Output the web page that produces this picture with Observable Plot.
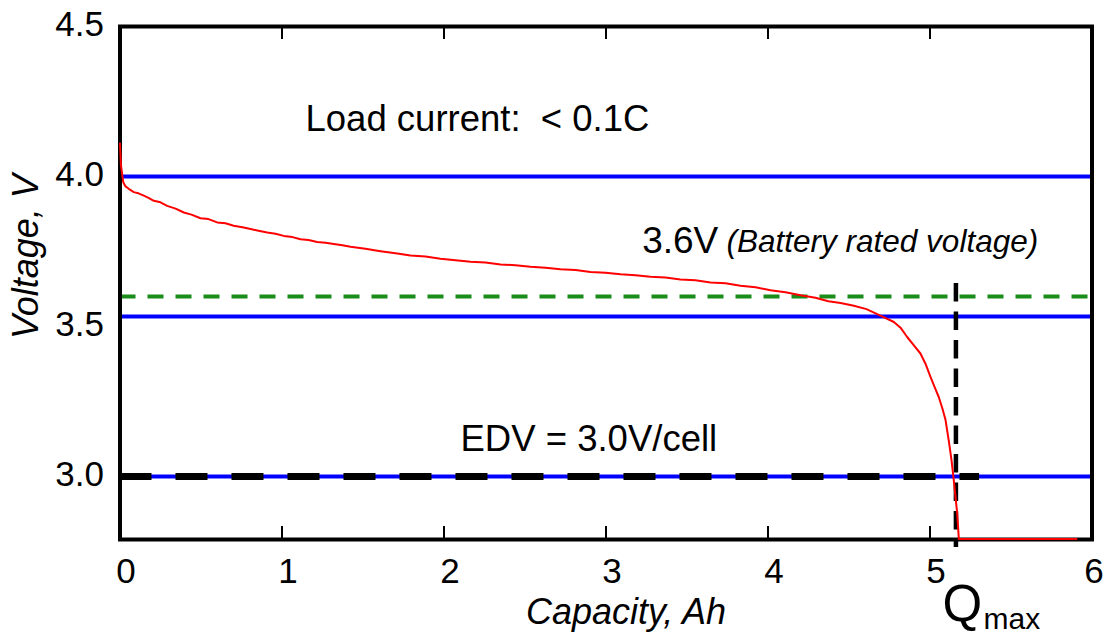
<!DOCTYPE html>
<html>
<head>
<meta charset="utf-8">
<script src="https://cdn.jsdelivr.net/npm/d3@7"></script>
<script src="https://cdn.jsdelivr.net/npm/@observablehq/plot@0.6"></script>
<style>
  html, body { margin: 0; padding: 0; background: #fff; }
  #chart svg { display: block; }
</style>
</head>
<body>
<div id="chart"></div>
<script>
// Discharge curve of a Li-ion cell at a low load current (< 0.1C)
const capacityAh = [
  0.000, 0.006, 0.020, 0.034, 0.054, 0.085, 0.114, 0.147, 0.176, 0.209,
  0.250, 0.291, 0.343, 0.394, 0.441, 0.497, 0.546, 0.600, 0.651, 0.702,
  0.756, 0.806, 0.855, 0.909, 0.960, 1.011, 1.065, 1.114, 1.164, 1.217,
  1.269, 1.320, 1.373, 1.423, 1.515, 1.608, 1.701, 1.793, 1.886, 1.978,
  2.071, 2.164, 2.256, 2.349, 2.441, 2.534, 2.627, 2.719, 2.812, 2.904,
  2.997, 3.090, 3.182, 3.275, 3.367, 3.460, 3.552, 3.645, 3.738, 3.830,
  3.923, 4.015, 4.108, 4.201, 4.293, 4.373, 4.448, 4.530, 4.608, 4.694,
  4.777, 4.818, 4.859, 4.898, 4.941, 4.972, 5.003, 5.028, 5.054, 5.077,
  5.096, 5.116, 5.133, 5.147, 5.168, 5.178, 5.904
];
const voltageV = [
  4.110, 4.037, 3.981, 3.967, 3.959, 3.948, 3.944, 3.936, 3.929, 3.919,
  3.914, 3.902, 3.893, 3.880, 3.873, 3.861, 3.858, 3.847, 3.844, 3.836,
  3.831, 3.825, 3.819, 3.813, 3.809, 3.802, 3.798, 3.791, 3.788, 3.782,
  3.779, 3.775, 3.771, 3.766, 3.759, 3.751, 3.744, 3.737, 3.733, 3.726,
  3.721, 3.716, 3.713, 3.707, 3.704, 3.699, 3.696, 3.691, 3.688, 3.682,
  3.679, 3.674, 3.671, 3.666, 3.663, 3.657, 3.654, 3.647, 3.644, 3.636,
  3.631, 3.621, 3.614, 3.604, 3.596, 3.584, 3.578, 3.569, 3.558, 3.536,
  3.515, 3.496, 3.465, 3.439, 3.410, 3.376, 3.332, 3.299, 3.265, 3.226,
  3.188, 3.119, 3.054, 2.986, 2.877, 2.792, 2.792
];

// Reference levels
const upperLevels = [4.0, 3.533];   // blue guide lines
const edv = 3.0;                     // end-of-discharge voltage
const ratedVoltage = 3.6;            // nominal cell voltage
const qmax = 5.16;                   // full capacity, Ah

// Axes
const xTicks = [0, 1, 2, 3, 4, 5];
const xLastTick = [6];
const xInnerTicks = [1, 2, 3, 4, 5];
const yTicks = [3.0, 3.5, 4.0, 4.5];
const yTickLabels = ["3.0", "3.5", "4.0", "4.5"];

const curve = capacityAh.map((c, i) => ({capacity: c, voltage: voltageV[i]}));
const font = "'Liberation Sans', Arial, Helvetica, sans-serif";
const tickLabel = {x: d => d, text: d => String(d), frameAnchor: "bottom", lineAnchor: "bottom",
  dy: 43, fontSize: 35, fill: "#000"};

const chart = Plot.plot({
  width: 1105,
  height: 634,
  marginTop: 26,
  marginBottom: 95,
  marginLeft: 119.5,
  marginRight: 13.5,
  x: {domain: [0, 6], axis: null},
  y: {domain: [2.79, 4.5], axis: null},
  style: {fontFamily: font, background: "#fff", color: "#000"},
  marks: [
    // horizontal guide lines
    Plot.ruleY([...upperLevels, edv], {stroke: "#0000ff", strokeWidth: 4}),
    Plot.ruleY([ratedVoltage], {stroke: "#1a8c1a", strokeWidth: 4, strokeDasharray: "16,12"}),
    Plot.ruleY([edv], {x1: 0, x2: 5.306, stroke: "#000", strokeWidth: 7, strokeDasharray: "32,24"}),
    Plot.ruleX([qmax], {y1: 3.643, y2: 2.763, stroke: "#000", strokeWidth: 4.5, strokeDasharray: "18.5,10"}),

    // frame and inward ticks
    Plot.frame({stroke: "#000", strokeWidth: 4}),
    Plot.ruleX(xInnerTicks, {insetTop: 500, stroke: "#000", strokeWidth: 2}),
    Plot.ruleX(xInnerTicks, {insetBottom: 500, stroke: "#000", strokeWidth: 2}),

    // tick labels
    Plot.text(xTicks, {...tickLabel, dx: 6}),
    Plot.text(xLastTick, {...tickLabel, dx: 2}),
    Plot.text(yTicks, {y: d => d, text: (d, i) => yTickLabels[i], frameAnchor: "left", lineAnchor: "bottom",
      textAnchor: "end", dx: -16, dy: 9.5, fontSize: 35, fill: "#000"}),

    // axis titles
    Plot.text(["Capacity, Ah"], {x: 3.123, frameAnchor: "bottom", lineAnchor: "bottom", dy: 84,
      fontSize: 36, fontStyle: "italic", fill: "#000"}),
    Plot.text(["Voltage, V"], {frameAnchor: "left", lineAnchor: "bottom", textAnchor: "middle", rotate: -90,
      dx: -82.5, dy: -26.5, fontSize: 36, fontStyle: "italic", fill: "#000"}),
    Plot.text(["Q"], {x: 5.077, frameAnchor: "bottom", lineAnchor: "bottom", textAnchor: "start", dy: 81,
      fontSize: 51, fill: "#000"}),
    Plot.text(["max"], {x: 5.33, frameAnchor: "bottom", lineAnchor: "bottom", textAnchor: "start", dy: 89,
      fontSize: 30, fill: "#000"}),

    // annotations
    Plot.text(["Load current:\u00a0 < 0.1C"], {x: 1.145, y: 4.153, lineAnchor: "bottom", textAnchor: "start",
      fontSize: 36.5, fill: "#000"}),
    Plot.text([ratedVoltage], {x: 3.223, y: 3.744, text: d => `${d}V`, lineAnchor: "bottom", textAnchor: "start",
      fontSize: 37, fill: "#000"}),
    Plot.text(["(Battery rated voltage)"], {x: 3.744, y: 3.748, lineAnchor: "bottom", textAnchor: "start",
      fontSize: 31.5, fontStyle: "italic", fill: "#000"}),
    Plot.text([edv], {x: 2.102, y: 3.084, text: d => `EDV = ${d.toFixed(1)}V/cell`, lineAnchor: "bottom",
      textAnchor: "start", fontSize: 36.5, fill: "#000"}),

    // discharge curve
    Plot.line(curve, {x: "capacity", y: "voltage", stroke: "#ff0000", strokeWidth: 2})
  ]
});

document.getElementById("chart").appendChild(chart);
</script>
</body>
</html>
